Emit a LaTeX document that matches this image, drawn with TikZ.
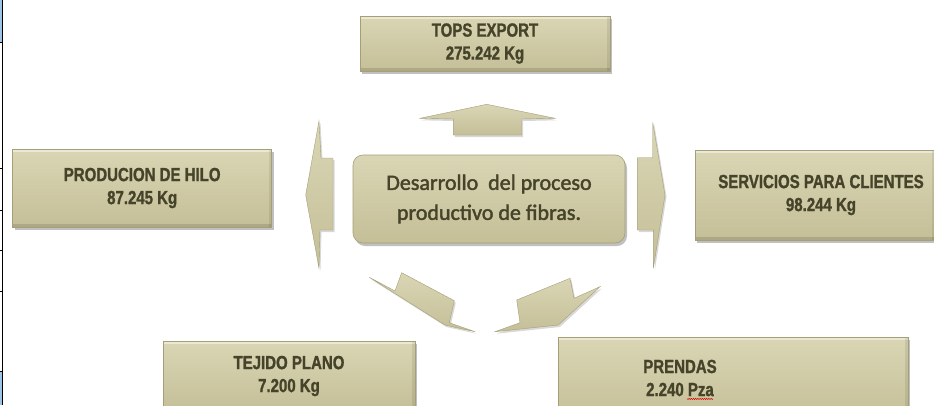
\documentclass[tikz,border=0pt]{standalone}
\usepackage{fontspec}
\newfontfamily\boxfont{Liberation Sans}[FakeStretch=0.79, FakeBold=1.2]
\newfontfamily\calib{Carlito}[FakeBold=1.8]
\usetikzlibrary{shadows,decorations.pathmorphing}
\definecolor{khakiA}{HTML}{DAD6B5}
\definecolor{khakiB}{HTML}{C4BF97}
\definecolor{khakiE}{HTML}{A49F76}
\definecolor{olive}{HTML}{45432A}
\definecolor{selblue}{HTML}{9DC3E6}
\begin{document}
\begin{tikzpicture}[x=1pt,y=-1pt,
  box/.style={rectangle, top color=khakiA, bottom color=khakiB, draw=khakiE, line width=0.5pt,
    drop shadow={shadow xshift=2pt, shadow yshift=-3pt, opacity=0.35, fill=black!70},
    font=\boxfont\bfseries\fontsize{19}{23}\selectfont, text=olive, align=center, inner sep=0pt,
    path picture={
      \fill[white,opacity=0.45] (path picture bounding box.north west) rectangle ([yshift=-3pt]path picture bounding box.north east);
      \fill[black,opacity=0.12] (path picture bounding box.south west) rectangle ([yshift=3pt]path picture bounding box.south east);
      \fill[black,opacity=0.08] (path picture bounding box.north east) rectangle ([xshift=-3pt]path picture bounding box.south east);
    }},
  boxtext/.style={font=\boxfont\bfseries\fontsize{19}{23}\selectfont, text=olive, align=center, inner sep=0pt},
  cbox/.style={rectangle, rounded corners=10pt, top color=khakiA, bottom color=khakiB, draw=khakiE, line width=0.6pt,
    drop shadow={shadow xshift=2pt, shadow yshift=-3pt, opacity=0.35, fill=black!70},
    font=\calib\fontsize{22}{30}\selectfont, text=olive, align=center, inner sep=0pt},
  arr/.style={top color=khakiA, bottom color=khakiB, draw=khakiE, line width=0.4pt, line join=miter,
    drop shadow={shadow xshift=1.5pt, shadow yshift=-2pt, opacity=0.25, fill=black!60}}
]
\useasboundingbox (0,0) rectangle (934,405);
\clip (0,0) rectangle (934,405);
\fill[white] (0,0) rectangle (934,405);

% left cell strip
\fill[selblue] (0,0) rectangle (2.4,42.7);
\fill[selblue] (0,371.7) rectangle (2.4,405);
\draw[black, line width=0.8pt] (2.6,0) -- (2.6,405);
\foreach \yy in {42.7,168,210,250.7,291.7,371.7}
  \draw[black, line width=0.6pt] (0,\yy) -- (2.6,\yy);

% boxes
\node[box, minimum width=250, minimum height=55] (tops) at (485,43.5) {TOPS EXPORT\\275.242 Kg};
\node[box, minimum width=259, minimum height=78] (hilo) at (142.2,188) {PRODUCION DE HILO\\87.245 Kg};
\node[box, minimum width=240, minimum height=90] (serv) at (815,195) {\hspace*{12pt}SERVICIOS PARA CLIENTES\\\hspace*{12pt}98.244 Kg};
\node[box, minimum width=252, minimum height=70] (tejido) at (289,376) {TEJIDO PLANO\\7.200 Kg};
\node[box, minimum width=350, minimum height=84] (prendas) at (733,379) {};
\node[boxtext] (prendastxt) at (680,378) {PRENDAS\\2.240 Pza};
\draw[red!85!black, line width=0.5pt, decorate, decoration={snake, amplitude=0.6pt, segment length=2.2pt}]
  ([xshift=-4pt, yshift=-2.5pt]prendastxt.south east) -- ([xshift=-30pt, yshift=-2.5pt]prendastxt.south east);

% center
\node[cbox, minimum width=272, minimum height=88] (core) at (489,199) {Desarrollo\ \ del proceso\\productivo de fibras.};

% arrows
\path[arr] (486.7,104.3) -- (555,118.3) -- (521.7,119) -- (521.7,135) -- (453.3,135) -- (453.3,119) -- (420,118.3) -- cycle;
\path[arr] (319,121) -- (321,158) -- (333,158) -- (333,230) -- (320,230) -- (319,268.3) -- (305.7,195) -- cycle;
\path[arr] (652.7,122.3) -- (665,195) -- (653.3,268.3) -- (653.3,230) -- (637.3,230) -- (637.3,157.7) -- (652.7,157.7) -- cycle;
\path[arr] (369.3,277.3) -- (395,291) -- (401.7,272.7) -- (454.3,300.7) -- (449.3,322.7) -- (475,331.7) -- (445,325) -- cycle;
\path[arr] (495,331.7) -- (520,322.7) -- (516.7,300) -- (570,278.3) -- (574,298.3) -- (600,286.7) -- (558.3,325) -- cycle;
\end{tikzpicture}
\end{document}
